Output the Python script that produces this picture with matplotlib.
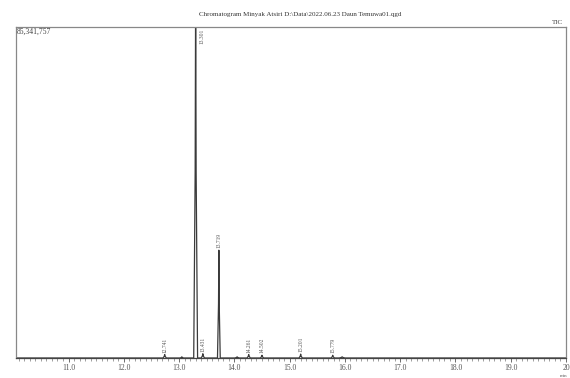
import numpy as np
import matplotlib.pyplot as plt
from matplotlib.ticker import MultipleLocator, FixedLocator

# Datos del cromatograma (tiempos en min, intensidades en cuentas)
peak_rt = [12.74, 13.05, 13.30, 13.43, 13.72, 14.05, 14.26, 14.50, 15.20, 15.78, 15.95]
peak_height = [0.9e6, 0.3e6, 96.0e6, 1.1e6, 27.8e6, 0.3e6, 0.9e6, 0.7e6, 1.0e6, 0.7e6, 0.3e6]
peak_width = [0.03, 0.03, 0.035, 0.03, 0.025, 0.04, 0.03, 0.03, 0.03, 0.03, 0.05]

label_rt = [12.74, 13.30, 13.43, 13.72, 14.26, 14.50, 15.20, 15.78]
label_text = ['12.741', '13.301', '13.431', '13.719', '14.261', '14.502', '15.201', '15.779']
label_height = [0.9e6, 96.0e6, 1.1e6, 27.8e6, 0.9e6, 0.7e6, 1.0e6, 0.7e6]

x_ticks = [11, 12, 13, 14, 15, 16, 17, 18, 19, 20]
x_tick_labels = ['11.0', '12.0', '13.0', '14.0', '15.0', '16.0', '17.0', '18.0', '19.0', '20']
y_max = 85341757

plt.rcParams['font.family'] = ['Liberation Serif', 'DejaVu Serif']

# Construimos la traza uniendo picos triangulares
t = [10.05]
y = [0.0]
for rt, h, w in sorted(zip(peak_rt, peak_height, peak_width)):
    t += [rt - w, rt - w / 4, rt, rt + w / 4, rt + w]
    y += [0.0, h * 0.5, h, h * 0.5, 0.0]
t.append(20.0)
y.append(0.0)

fig = plt.figure(figsize=(5.7, 3.78), dpi=100)
ax = fig.add_axes([16 / 570, 20 / 378, 550 / 570, 331 / 378])
ax.plot(t, y, color='#3a3a3a', lw=0.9)

ax.set_xlim(10.05, 20.0)
ax.set_ylim(0, y_max)
ax.xaxis.set_major_locator(FixedLocator(x_ticks))
ax.set_xticklabels(x_tick_labels, fontsize=5.5, color='#555555')
ax.xaxis.set_minor_locator(MultipleLocator(0.1))
ax.tick_params(axis='x', which='major', length=3, width=0.6, color='#555555', pad=1.5)
ax.tick_params(axis='x', which='minor', length=2, width=0.5, color='#777777')
ax.set_yticks([])
for s in ax.spines.values():
    s.set_color('#888888')
    s.set_linewidth(0.9)
ax.spines['bottom'].set_color('#444444')

# Etiquetas de los picos (el pico mayor se sale del eje, su etiqueta va arriba a la derecha)
for rt, txt, h in zip(label_rt, label_text, label_height):
    if h >= y_max:
        ax.text(rt + 0.11, y_max * 0.995, txt, rotation=90, fontsize=4,
                ha='center', va='top', color='#555555')
    else:
        ax.text(rt, h + 0.5e6, txt, rotation=90, fontsize=4,
                ha='center', va='bottom', color='#555555')

ax.text(0.002, 0.998, '85,341,757', transform=ax.transAxes, fontsize=5.5,
        ha='left', va='top', color='#444444')
ax.text(0.995, 1.005, 'TIC', transform=ax.transAxes, fontsize=5,
        ha='right', va='bottom', color='#444444')
fig.text(0.995, 0.0, 'min', fontsize=3.5, ha='right', va='bottom', color='#555555')
fig.text(0.527, 0.962, 'Chromatogram Minyak Atsiri D:\\Data\\2022.06.23 Daun Temuwa01.qgd',
         fontsize=5, ha='center', va='center', color='#333333')

fig.savefig('out.png', dpi=100)
